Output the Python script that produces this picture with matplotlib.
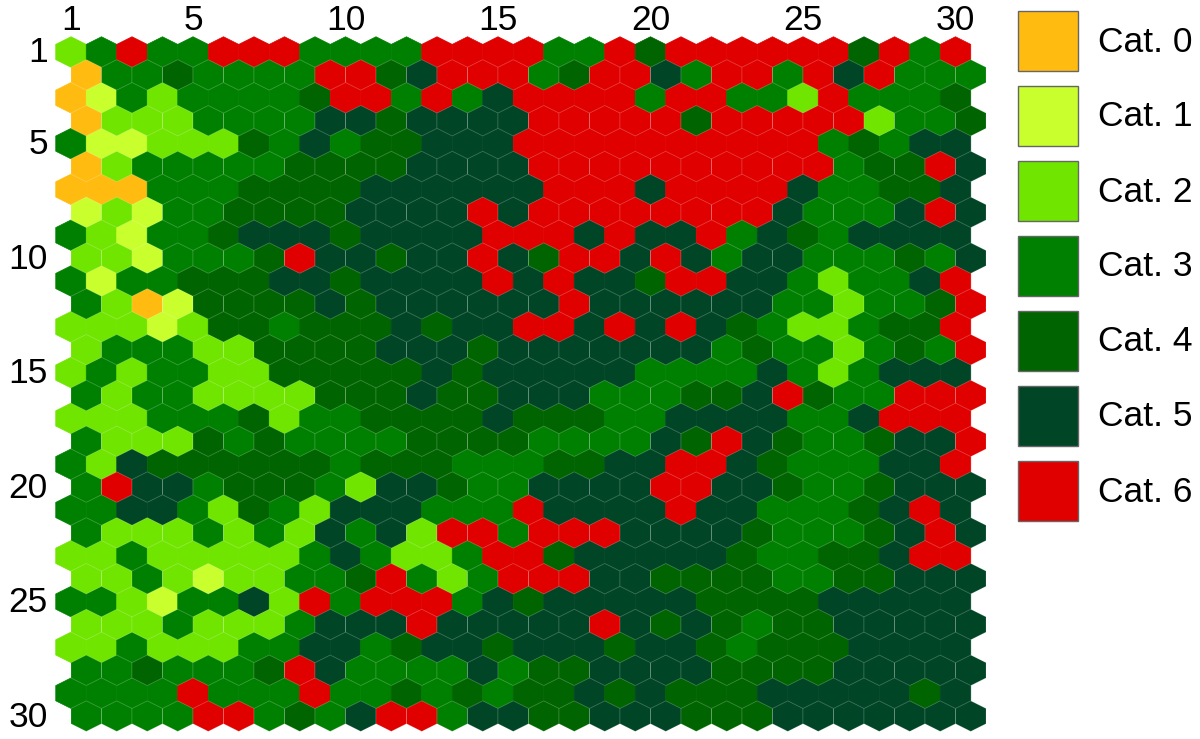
import numpy as np
import matplotlib
matplotlib.use('Agg')
import matplotlib.pyplot as plt
from matplotlib.collections import PolyCollection
from matplotlib.patches import Rectangle

plt.rcParams['font.family'] = ['Liberation Sans', 'DejaVu Sans']

cat_names = ['Cat. 0', 'Cat. 1', 'Cat. 2', 'Cat. 3', 'Cat. 4', 'Cat. 5', 'Cat. 6']
cat_colors = ['#FFBB0F', '#C8FF2D', '#70E500', '#008000', '#006400', '#004526', '#E00000']
x_ticks = [1, 5, 10, 15, 20, 25, 30]
y_ticks = [1, 5, 10, 15, 20, 25, 30]

grid = [
    [2,3,6,3,3,6,6,6,3,3,3,3,6,6,6,6,3,3,6,4,6,6,6,6,6,6,4,6,3,6],
    [0,3,3,4,3,3,3,3,6,6,4,5,6,6,6,3,4,6,6,5,3,6,6,3,6,5,6,3,3,3],
    [0,1,3,2,3,3,3,3,4,6,6,3,6,3,5,6,6,6,6,3,6,6,3,3,2,6,3,3,3,4],
    [0,2,2,2,3,3,3,3,5,5,4,5,5,5,5,6,6,6,6,6,4,6,6,6,6,6,2,3,3,4],
    [3,1,1,2,2,2,4,3,5,3,4,4,5,5,5,6,6,6,6,6,6,6,6,6,6,3,4,3,5,5],
    [0,2,3,3,3,3,3,4,4,4,4,5,5,5,5,6,6,6,6,6,6,6,6,6,6,3,4,4,6,5],
    [0,0,0,3,3,3,4,4,4,4,5,5,5,5,5,5,6,6,6,5,6,6,6,6,5,3,3,4,4,5],
    [1,2,1,3,3,4,4,4,4,5,5,5,5,6,5,6,6,6,6,6,6,6,6,5,3,3,3,5,6,5],
    [3,2,1,3,3,4,5,5,5,4,5,5,5,5,6,6,6,5,6,5,5,6,3,5,4,3,5,5,5,5],
    [2,2,1,3,3,3,4,6,5,5,4,5,5,6,5,4,6,6,5,6,5,3,5,5,3,3,3,4,3,5],
    [3,1,3,3,4,4,4,5,5,4,5,5,5,5,6,5,6,5,5,4,6,6,5,5,3,2,3,3,5,6],
    [3,2,0,1,4,4,4,4,5,4,5,5,5,5,5,5,6,5,5,5,5,5,5,3,3,2,3,3,4,6],
    [2,2,2,1,2,4,4,3,4,4,4,5,4,5,5,6,6,5,6,5,6,5,4,3,2,2,3,4,4,6],
    [2,3,3,3,2,2,4,4,4,4,5,5,5,4,5,5,5,5,5,5,5,3,4,3,3,2,3,4,3,6],
    [2,3,2,3,3,2,2,4,4,4,4,4,5,4,5,5,5,5,5,3,3,3,3,5,3,2,3,5,5,5],
    [3,2,3,3,2,2,2,2,4,4,4,5,4,4,5,5,5,3,3,3,4,4,5,6,4,3,3,6,6,6],
    [2,2,2,3,3,3,4,2,3,3,4,4,4,4,5,4,4,4,3,3,5,5,5,5,3,3,5,6,6,6],
    [3,2,2,2,4,3,4,3,3,3,3,4,4,4,4,3,3,3,3,5,4,6,5,4,3,3,4,5,5,6],
    [3,2,5,4,4,4,4,4,4,3,4,4,4,3,3,3,4,4,5,5,6,6,5,4,3,3,3,5,5,6],
    [3,6,5,5,3,4,4,4,3,2,5,5,4,3,3,5,5,5,5,6,6,5,5,4,3,3,4,5,5,5],
    [3,3,5,5,3,2,4,3,2,5,5,5,3,3,3,6,5,5,5,5,6,5,5,3,3,3,4,5,6,5],
    [3,2,2,2,3,2,3,2,5,3,5,2,6,6,3,6,6,6,5,5,5,5,4,3,3,3,4,5,6,5],
    [2,2,3,2,2,2,2,2,3,5,3,2,2,3,6,6,4,5,5,5,5,5,4,3,3,4,4,5,6,6],
    [2,2,3,2,1,2,2,3,3,4,6,3,2,3,6,6,6,5,5,4,4,4,4,3,3,4,4,5,5,5],
    [3,3,2,1,3,3,5,2,6,3,6,6,6,3,5,4,5,5,5,5,5,4,4,4,4,5,5,5,5,5],
    [2,2,2,3,2,2,2,3,5,5,5,6,5,5,5,5,5,6,5,4,5,4,3,4,4,5,5,5,5,5],
    [2,2,3,2,2,2,3,3,5,5,3,4,5,5,4,5,5,5,4,5,5,4,3,4,4,4,5,5,5,5],
    [3,3,4,3,3,3,4,6,5,3,3,3,3,5,3,4,4,5,5,5,5,4,4,4,4,5,5,5,5,5],
    [3,3,3,3,6,3,3,3,6,3,3,4,3,4,3,4,4,5,4,5,4,4,4,5,5,5,5,5,4,5],
    [3,3,3,3,6,6,3,4,3,5,6,6,3,5,5,4,4,5,5,5,4,4,4,5,5,5,5,5,5,5],
]

W, H = 1200, 739
col_px, row_px = 30.5, 22.9
left_px, top_px = 71, 52

fig = plt.figure(figsize=(W / 100, H / 100), dpi=100)
ax = fig.add_axes([0, 0, 1, 1])
ax.set_xlim(1 - left_px / col_px, 1 + (W - left_px) / col_px)
ax.set_ylim(1 + (H - top_px) / row_px, 1 - top_px / row_px)
ax.axis('off')

# hexagons are squashed: as tall as they are wide, in pixels
hw = 0.5
hh = 0.5 * col_px / row_px
hex_x = np.array([0, hw, hw, 0, -hw, -hw])
hex_y = np.array([-hh, -hh / 2, hh / 2, hh, hh / 2, -hh / 2])

grid = np.array(grid)
for offset in [0, 1]:
    polys, cols = [], []
    for r in range(offset, 30, 2):
        for c in range(30):
            cx = c + 1 + 0.5 * offset
            polys.append(np.column_stack([cx + hex_x, r + 1 + hex_y]))
            cols.append(cat_colors[grid[r, c]])
    if offset == 0:
        pc = PolyCollection(polys, facecolors=cols, edgecolors=cols, linewidths=0.5)
    else:
        pc = PolyCollection(polys, facecolors=cols, edgecolors=(1, 1, 1, 0.15), linewidths=0.7)
    ax.add_collection(pc)

for t in x_ticks:
    ax.text(t, 1 - 31 / row_px, str(t), fontsize=25.5, ha='center', va='center')
for t in y_ticks:
    ax.text(1 - 23 / col_px, t + 1 / row_px, str(t), fontsize=25.5, ha='right', va='center')

for i, (name, color) in enumerate(zip(cat_names, cat_colors)):
    y0 = 11 + i * 75
    fig.patches.append(Rectangle((1018 / W, 1 - (y0 + 60) / H), 60 / W, 60 / H,
                                 transform=fig.transFigure, facecolor=color,
                                 edgecolor='#666666', linewidth=1))
    fig.text(1098 / W, 1 - (y0 + 31) / H, name, fontsize=25.5, ha='left', va='center')

fig.savefig('out.png', dpi=100)
